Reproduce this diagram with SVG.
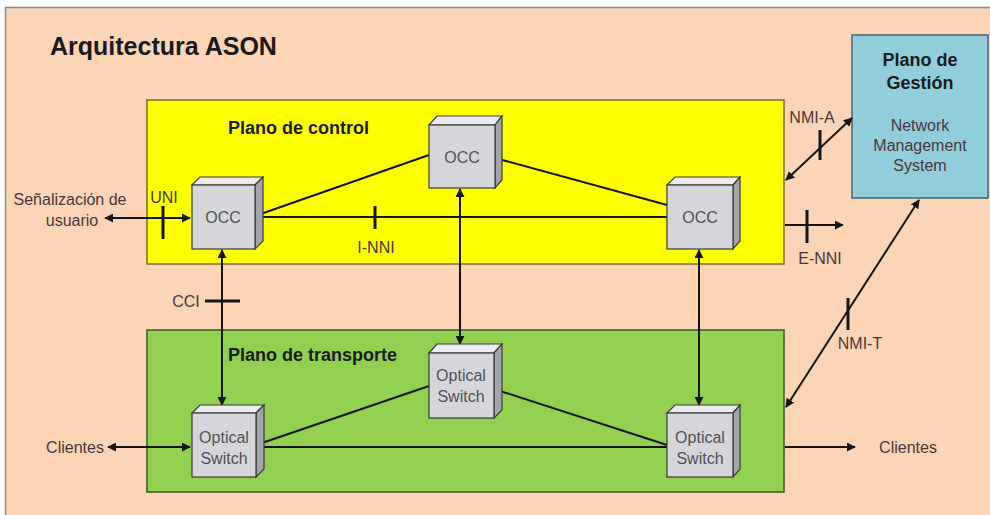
<svg xmlns="http://www.w3.org/2000/svg" width="990" height="515" viewBox="0 0 990 515">
<style>
.lbl{font-family:"Liberation Sans",Arial,sans-serif;font-size:16px;fill:#4a3838}
.hd{font-family:"Liberation Sans",Arial,sans-serif;font-size:18px;font-weight:bold;fill:#1a1a1a}
.box{font-family:"Liberation Sans",Arial,sans-serif;font-size:16px;fill:#505058;text-anchor:middle}
.front{fill:#d6d6da;stroke:#3a3a3a;stroke-width:1.2}
.top{fill:#ececf0;stroke:#3a3a3a;stroke-width:1.2}
.side{fill:#a4a4ac;stroke:#3a3a3a;stroke-width:1.2}
.ln{stroke:#151515;stroke-width:2;fill:none}
.tick{stroke:#151515;stroke-width:3}
</style>
<defs>
<marker id="ah" viewBox="0 0 10 10" refX="9" refY="5" markerWidth="4.5" markerHeight="4.5" orient="auto-start-reverse" markerUnits="strokeWidth">
<path d="M0,0 L10,5 L0,10 z" fill="#151515"/>
</marker>
</defs>
<rect x="0" y="0" width="990" height="515" fill="#ffffff"/>
<rect id="background" x="5.5" y="7.5" width="990" height="515" fill="#fbd5b5" stroke="#8a8a8a" stroke-width="1.5"/>
<text x="50" y="55" font-family="Liberation Sans,Arial,sans-serif" font-size="25" font-weight="bold" fill="#1a1a1a">Arquitectura ASON</text>

<g id="control-plane">
<rect x="147" y="100" width="637" height="164" fill="#ffff00" stroke="#7d6a30" stroke-width="1.5"/>
<text class="hd" x="228" y="134">Plano de control</text>
</g>
<g id="transport-plane">
<rect x="147" y="330" width="637" height="162" fill="#92d050" stroke="#3d5a2a" stroke-width="1.5"/>
<text class="hd" x="228" y="361">Plano de transporte</text>
</g>
<g id="management-plane">
<rect x="852" y="35" width="136" height="163" fill="#92cddc" stroke="#4a6470" stroke-width="1.5"/>
<text class="hd" x="920" y="66" text-anchor="middle" fill="#1a2a3a">Plano de</text>
<text class="hd" x="920" y="89" text-anchor="middle" fill="#1a2a3a">Gestión</text>
<text class="lbl" x="920" y="131" text-anchor="middle" fill="#2a4050">Network</text>
<text class="lbl" x="920" y="151" text-anchor="middle" fill="#2a4050">Management</text>
<text class="lbl" x="920" y="171" text-anchor="middle" fill="#2a4050">System</text>
</g>

<g id="connectors">
<line class="ln" x1="255" y1="217" x2="667" y2="217"/>
<line class="ln" x1="255" y1="216" x2="429" y2="155"/>
<line class="ln" x1="495" y1="158" x2="667" y2="205"/>
<line class="ln" x1="256" y1="447" x2="667" y2="447"/>
<line class="ln" x1="256" y1="445" x2="429" y2="386"/>
<line class="ln" x1="494" y1="389" x2="667" y2="445"/>
<line class="ln" x1="460" y1="189" x2="460" y2="344" marker-start="url(#ah)" marker-end="url(#ah)"/>
<line class="ln" x1="222" y1="250" x2="222" y2="405" marker-start="url(#ah)" marker-end="url(#ah)"/>
<line class="ln" x1="699" y1="250" x2="699" y2="405" marker-start="url(#ah)" marker-end="url(#ah)"/>
<line class="ln" x1="105" y1="218" x2="190" y2="218" marker-start="url(#ah)" marker-end="url(#ah)"/>
<line class="ln" x1="108" y1="447" x2="190" y2="447" marker-start="url(#ah)" marker-end="url(#ah)"/>
<line class="ln" x1="785" y1="447" x2="855" y2="447" marker-end="url(#ah)"/>
<line class="ln" x1="785" y1="225" x2="843" y2="225" marker-end="url(#ah)"/>
<line class="ln" x1="786" y1="180" x2="852" y2="118" marker-start="url(#ah)" marker-end="url(#ah)"/>
<line class="ln" x1="786" y1="407" x2="919" y2="200" marker-start="url(#ah)" marker-end="url(#ah)"/>
<line class="tick" x1="163" y1="206" x2="163" y2="239"/>
<line class="tick" x1="375" y1="206" x2="375" y2="229"/>
<line class="tick" x1="205" y1="301" x2="240" y2="301"/>
<line class="tick" x1="807" y1="210" x2="807" y2="243"/>
<line class="tick" x1="820" y1="130" x2="820" y2="160"/>
<line class="tick" x1="848" y1="298" x2="848" y2="330"/>
</g>

<g id="labels">
<text class="lbl" x="70" y="205" text-anchor="middle">Señalización de</text>
<text class="lbl" x="72" y="226" text-anchor="middle">usuario</text>
<text class="lbl" x="164" y="203" text-anchor="middle" fill="#a08a30">UNI</text>
<text class="lbl" x="376" y="253" text-anchor="middle">I-NNI</text>
<text class="lbl" x="186" y="307" text-anchor="middle">CCI</text>
<text class="lbl" x="820" y="264" text-anchor="middle">E-NNI</text>
<text class="lbl" x="812" y="123" text-anchor="middle">NMI-A</text>
<text class="lbl" x="860" y="349" text-anchor="middle">NMI-T</text>
<text class="lbl" x="75" y="453" text-anchor="middle">Clientes</text>
<text class="lbl" x="908" y="453" text-anchor="middle">Clientes</text>
</g>

<g id="occ-left">
<polygon class="top" points="192,185 200,177 263,177 255,185"/>
<polygon class="side" points="255,185 263,177 263,241 255,249"/>
<rect class="front" x="192" y="185" width="63" height="64"/>
<text class="box" x="223" y="223" font-size="17">OCC</text>
</g>
<g id="occ-middle">
<polygon class="top" points="429,125 437,116 502,116 495,125"/>
<polygon class="side" points="495,125 502,116 502,180 495,188"/>
<rect class="front" x="429" y="125" width="66" height="63"/>
<text class="box" x="462" y="163" font-size="17">OCC</text>
</g>
<g id="occ-right">
<polygon class="top" points="667,185 675,177 740,177 733,185"/>
<polygon class="side" points="733,185 740,177 740,241 733,249"/>
<rect class="front" x="667" y="185" width="66" height="64"/>
<text class="box" x="700" y="223" font-size="17">OCC</text>
</g>
<g id="switch-left">
<polygon class="top" points="192,413 200,405 264,405 256,413"/>
<polygon class="side" points="256,413 264,405 264,469 256,477"/>
<rect class="front" x="192" y="413" width="64" height="64"/>
<text class="box" x="224" y="443">Optical</text>
<text class="box" x="224" y="464">Switch</text>
</g>
<g id="switch-middle">
<polygon class="top" points="429,353 437,344 502,344 494,353"/>
<polygon class="side" points="494,353 502,344 502,410 494,418"/>
<rect class="front" x="429" y="353" width="65" height="65"/>
<text class="box" x="461" y="381">Optical</text>
<text class="box" x="461" y="402">Switch</text>
</g>
<g id="switch-right">
<polygon class="top" points="667,413 675,405 740,405 733,413"/>
<polygon class="side" points="733,413 740,405 740,469 733,477"/>
<rect class="front" x="667" y="413" width="66" height="64"/>
<text class="box" x="700" y="443">Optical</text>
<text class="box" x="700" y="464">Switch</text>
</g>
</svg>
